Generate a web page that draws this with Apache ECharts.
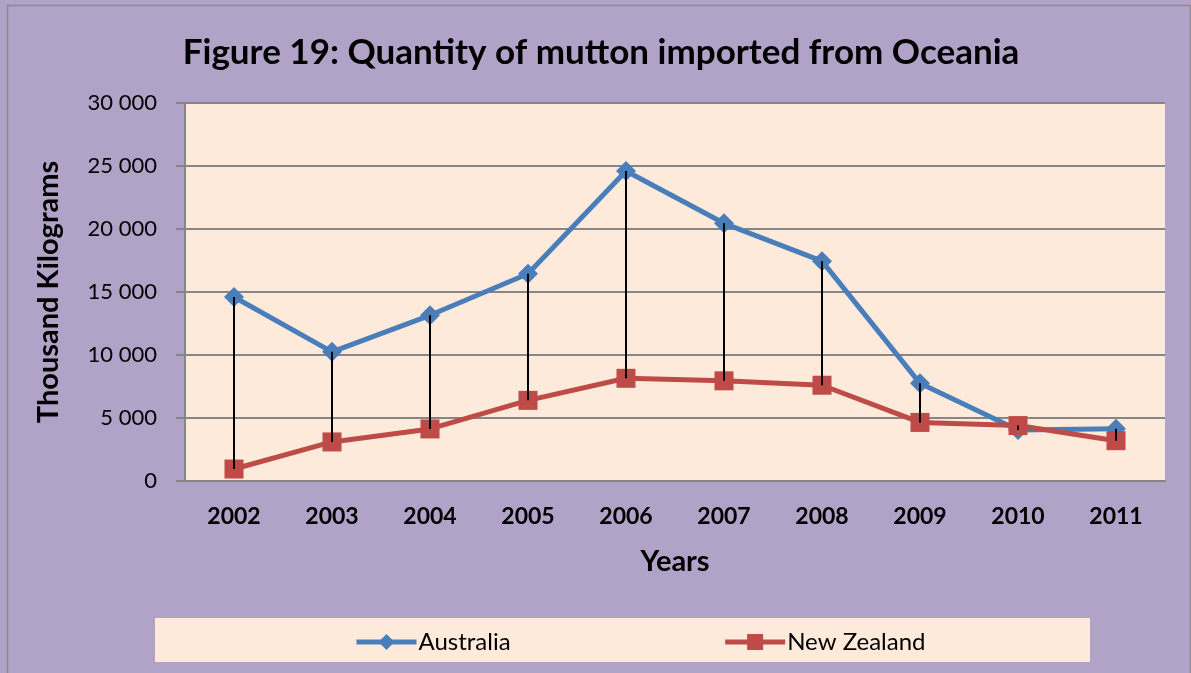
<!DOCTYPE html>
<html>
<head>
<meta charset="utf-8">
<script src="https://cdn.jsdelivr.net/npm/echarts@6/dist/echarts.min.js"></script>
<style>
  html, body { margin: 0; padding: 0; background: #b1a2c8; }
  #chart { width: 1191px; height: 673px; }
</style>
</head>
<body>
<div id="chart"></div>
<script>
const years = ['2002', '2003', '2004', '2005', '2006', '2007', '2008', '2009', '2010', '2011']
const australia = [14600, 10250, 13150, 16450, 24600, 20450, 17450, 7750, 4050, 4150]
const newZealand = [950, 3100, 4130, 6400, 8150, 7950, 7600, 4650, 4400, 3200]
const yTicks = [0, 5000, 10000, 15000, 20000, 25000, 30000]

const font = 'Lato, "Open Sans", sans-serif'
const fmt = v => v === 0 ? '0' : (v / 1000) + ' 000'

const chart = echarts.init(document.getElementById('chart'))

chart.setOption({
  backgroundColor: '#b1a2c8',
  animation: false,
  title: {
    text: 'Figure 19: Quantity of mutton imported from Oceania',
    left: 596,
    textAlign: 'center',
    top: 30,
    textStyle: { fontFamily: font, fontWeight: 'bold', fontSize: 35, color: '#000' }
  },
  graphic: [
    {
      type: 'rect', left: 5, top: 3, silent: true, z: -10,
      shape: { width: 1183, height: 680 },
      style: { fill: 'none', stroke: '#8c8c8c', lineWidth: 1.5 }
    },
    {
      type: 'rect', left: 155, top: 618, silent: true, z: -5,
      shape: { width: 935, height: 44 },
      style: { fill: '#fdeadb' }
    }
  ],
  grid: {
    left: 185, right: 26, top: 103, bottom: 192,
    show: true, backgroundColor: '#fdeadb', borderWidth: 0
  },
  legend: {
    top: 625,
    left: 349,
    itemGap: 212,
    itemWidth: 60,
    itemHeight: 20,
    data: [
      { name: 'Australia', lineStyle: { width: 5 } },
      { name: 'New Zealand', lineStyle: { width: 5 } }
    ],
    textStyle: { fontFamily: font, fontSize: 24, color: '#000', padding: [0, 0, 0, -3] }
  },
  xAxis: {
    type: 'category',
    data: years,
    boundaryGap: true,
    name: 'Years',
    nameLocation: 'middle',
    nameGap: 66,
    nameTextStyle: { fontFamily: font, fontWeight: 'bold', fontSize: 29, color: '#000' },
    axisLine: { lineStyle: { color: '#868686', width: 2 } },
    axisTick: { show: false },
    axisLabel: { fontFamily: font, fontWeight: 'bold', fontSize: 23, color: '#000', margin: 24 }
  },
  yAxis: {
    type: 'value',
    min: 0,
    max: 30000,
    interval: 5000,
    name: 'Thousand Kilograms',
    nameLocation: 'middle',
    nameGap: 122,
    nameTextStyle: { fontFamily: font, fontWeight: 'bold', fontSize: 29, color: '#000' },
    axisLine: { show: true, lineStyle: { color: '#868686', width: 2 } },
    axisTick: { show: true, length: 9, lineStyle: { color: '#868686', width: 2 } },
    splitLine: { lineStyle: { color: '#868686', width: 2 } },
    axisLabel: {
      fontFamily: font, fontSize: 22, color: '#000', margin: 28,
      formatter: v => yTicks.includes(v) ? fmt(v) : ''
    }
  },
  series: [
    {
      name: 'Australia',
      type: 'line',
      data: australia,
      symbol: 'diamond',
      symbolSize: 20,
      color: '#4a7ebb',
      lineStyle: { width: 5, color: '#4a7ebb' },
      itemStyle: { color: '#4a7ebb' },
      z: 3
    },
    {
      name: 'New Zealand',
      type: 'line',
      data: newZealand,
      symbol: 'rect',
      symbolSize: 19,
      color: '#be4b48',
      lineStyle: { width: 5, color: '#be4b48' },
      itemStyle: { color: '#be4b48' },
      z: 4
    },
    {
      name: 'drop',
      type: 'custom',
      silent: true,
      z: 5,
      data: years.map((y, i) => [i, australia[i], newZealand[i]]),
      renderItem: (params, api) => {
        const a = api.coord([api.value(0), api.value(1)])
        const b = api.coord([api.value(0), api.value(2)])
        return {
          type: 'line',
          shape: { x1: a[0], y1: a[1], x2: b[0], y2: b[1] },
          style: { stroke: '#000', lineWidth: 2 }
        }
      }
    }
  ]
})
</script>
</body>
</html>
